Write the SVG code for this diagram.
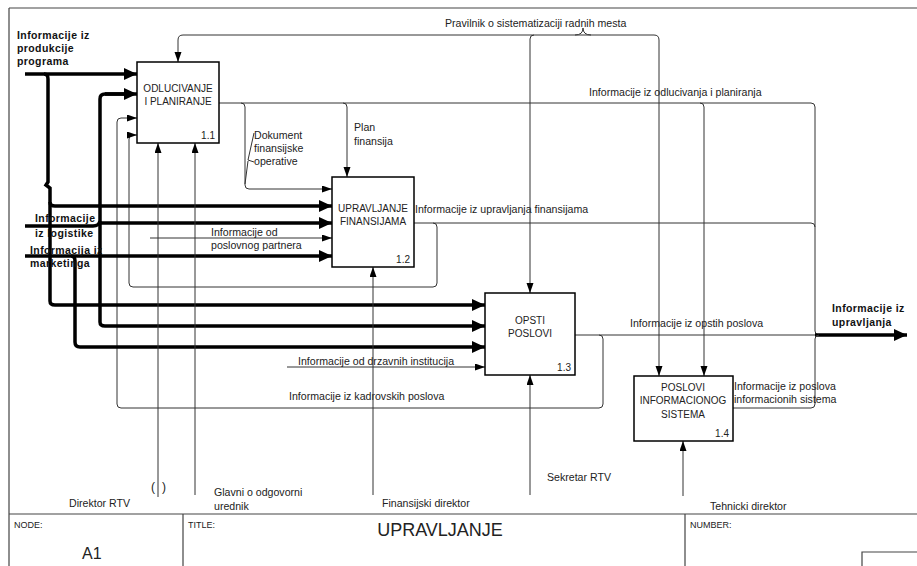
<svg xmlns="http://www.w3.org/2000/svg" width="917" height="566" viewBox="0 0 917 566">
  <style>
    text { font-family: "Liberation Sans", Arial, sans-serif; font-size: 10.6px; fill: #222; }
    .bx { font-size: 10px; }
    .b { font-weight: bold; fill: #111; font-size: 10.5px; letter-spacing: 0.4px; }
    .mid { text-anchor: middle; }
    .end { text-anchor: end; }
    .box { fill: #fff; stroke: #000; stroke-width: 1.5; }
    .thin { fill: none; stroke: #333; stroke-width: 1; }
    .thinA { fill: none; stroke: #333; stroke-width: 1; marker-end: url(#a); }
    .thick { fill: none; stroke: #000; stroke-width: 3.5; }
    .thickA { fill: none; stroke: #000; stroke-width: 3.5; marker-end: url(#A); }
    .frame { fill: none; stroke: #444; stroke-width: 1.2; }
  </style>
  <defs>
    <marker id="a" markerUnits="userSpaceOnUse" markerWidth="10" markerHeight="8" refX="10" refY="3.5" orient="auto">
      <path d="M0,0 L10,3.5 L0,7 z" fill="#000"/>
    </marker>
    <marker id="A" markerUnits="userSpaceOnUse" markerWidth="14" markerHeight="13" refX="13" refY="6" orient="auto">
      <path d="M0,0 L13,6 L0,12 z" fill="#000"/>
    </marker>
  </defs>

  <!-- sheet frame -->
  <g id="frame">
    <path class="frame" d="M9,8 H917 M9,8 V566 M9,514 H917 M183,514 V566 M685,514 V566 M862,566 V552 H917"/>
    <text x="14" y="528" style="font-size:9px">NODE:</text>
    <text x="82" y="559" style="font-size:16px">A1</text>
    <text x="188" y="528" style="font-size:9px">TITLE:</text>
    <text x="440" y="536" class="mid" style="font-size:18px">UPRAVLJANJE</text>
    <text x="690" y="528" style="font-size:9px">NUMBER:</text>
  </g>

  <!-- connectors -->
  <g id="connectors">
    <!-- Pravilnik o sistematizaciji radnih mesta -->
    <path class="thinA" d="M659,40 V376"/>
    <path class="thinA" d="M659,40 Q659,35 654,35 H183 Q178,35 178,40 V62"/>
    <path class="thinA" d="M534,35 Q530,35 530,39 V293"/>
    <path class="thin" d="M575,35 Q583,35 583,28 Q583,35 591,35"/>
    <text x="445" y="27">Pravilnik o sistematizaciji radnih mesta</text>

    <!-- Informacije iz odlucivanja i planiranja -->
    <path class="thin" d="M219,103 H811 Q815,103 815,107 V331 Q815,335 819,335"/>
    <path class="thinA" d="M700,103 Q704,103 704,107 V376"/>
    <path class="thinA" d="M241,103 Q245,103 245,107 V185 Q245,189 249,189 H332"/>
    <path class="thinA" d="M343,103 Q347,103 347,107 V177"/>
    <text x="589" y="96">Informacije iz odlucivanja i planiranja</text>
    <path class="thin" d="M254,133 L248,160 L254,162 M248,161 L245,184"/>
    <text x="254" y="139">Dokument</text>
    <text x="254" y="152">finansijske</text>
    <text x="254" y="165">operative</text>
    <text x="354" y="131">Plan</text>
    <text x="354" y="145">finansija</text>

    <!-- Informacije iz upravljanja finansijama -->
    <path class="thin" d="M414,223 H811 Q815,223 815,227"/>
    <path class="thinA" d="M433,223 Q437,223 437,227 V283 Q437,287 433,287 H133 Q129,287 129,283 V139 Q129,135 133,135 H137"/>
    <text x="415" y="213">Informacije iz upravljanja finansijama</text>

    <!-- Informacije iz opstih poslova -->
    <path class="thin" d="M575,335 H815"/>
    <path class="thickA" d="M815,335 H907"/>
    <text x="630" y="327">Informacije iz opstih  poslova</text>
    <text x="832" y="312" class="b">Informacije iz</text>
    <text x="832" y="326" class="b">upravljanja</text>

    <!-- Informacije iz kadrovskih poslova -->
    <path class="thinA" d="M599,335 Q603,335 603,339 V404 Q603,408 599,408 H121 Q117,408 117,404 V122 Q117,118 121,118 H137"/>
    <text x="289" y="400">Informacije iz kadrovskih poslova</text>

    <!-- Informacije iz poslova informacionih sistema -->
    <path class="thin" d="M733,408 H811 Q815,408 815,404 V339 Q815,335 819,335"/>
    <text x="734" y="390">Informacije iz poslova</text>
    <text x="734" y="403">informacionih sistema</text>

    <!-- Informacije iz produkcije programa -->
    <path class="thickA" d="M25,74 H137"/>
    <path class="thick" d="M44,74 Q48,74 48,79 V182 L46,185 L50,188 V301 Q50,305 55,305 H475"/>
    <path class="thick" d="M475,305 H485" marker-end="url(#A)"/>
    <path class="thickA" d="M50,202 Q50,206 55,206 H332"/>
    <text x="17" y="39" class="b">Informacije iz</text>
    <text x="17" y="52" class="b">produkcije</text>
    <text x="17" y="65" class="b">programa</text>

    <!-- Informacije iz logistike -->
    <path class="thick" d="M25,226 H93 Q99,226 100,221"/>
    <path class="thickA" d="M100,322 Q100,326 105,326 H485"/>
    <path class="thick" d="M100,322 V99 Q100,94 105,94 H126"/>
    <path class="thickA" d="M105,94 H137"/>
    <path class="thickA" d="M100,223 H332"/>
    <text x="35" y="222" class="b">Informacije</text>
    <text x="35" y="237" class="b">iz logistike</text>

    <!-- Informacija iz marketinga -->
    <path class="thickA" d="M25,256 H332"/>
    <path class="thickA" d="M71,256 Q75,256 75,261 V342 Q75,347 80,347 H485"/>
    <text x="30" y="254" class="b">Informacija iz</text>
    <text x="30" y="267" class="b">marketinga</text>

    <!-- Informacije od poslovnog partnera -->
    <path class="thinA" d="M150,238 H332"/>
    <text x="211" y="236">Informacije od</text>
    <text x="211" y="249">poslovnog partnera</text>

    <!-- Informacije od drzavnih institucija -->
    <path class="thinA" d="M287,367 H485"/>
    <text x="298" y="365">Informacije od drzavnih institucija</text>

    <!-- mechanisms -->
    <path class="thinA" d="M158,497 V143"/>
    <text x="151" y="491" style="font-size:12px">(</text>
    <text x="162" y="491" style="font-size:12px">)</text>
    <text x="69" y="507">Direktor RTV</text>
    <path class="thinA" d="M195,495 V143"/>
    <text x="214" y="496">Glavni o odgovorni</text>
    <text x="214" y="510">urednik</text>
    <path class="thinA" d="M373,495 V267"/>
    <text x="382" y="507">Finansijski direktor</text>
    <path class="thinA" d="M530,495 V375"/>
    <text x="547" y="481">Sekretar RTV</text>
    <path class="thinA" d="M683,496 V441"/>
    <text x="710" y="510">Tehnicki direktor</text>
  </g>

  <!-- activity boxes -->
  <g id="A11">
    <rect class="box" x="137" y="62" width="82" height="81"/>
    <text x="178" y="92" class="mid bx">ODLUCIVANJE</text>
    <text x="178" y="105" class="mid bx">I PLANIRANJE</text>
    <text x="215" y="139" class="end bx">1.1</text>
  </g>
  <g id="A12">
    <rect class="box" x="332" y="177" width="82" height="90"/>
    <text x="373" y="212" class="mid bx">UPRAVLJANJE</text>
    <text x="373" y="225" class="mid bx">FINANSIJAMA</text>
    <text x="410" y="263" class="end bx">1.2</text>
  </g>
  <g id="A13">
    <rect class="box" x="485" y="293" width="90" height="82"/>
    <text x="530" y="324" class="mid bx">OPSTI</text>
    <text x="530" y="337" class="mid bx">POSLOVI</text>
    <text x="571" y="371" class="end bx">1.3</text>
  </g>
  <g id="A14">
    <rect class="box" x="634" y="376" width="99" height="65"/>
    <text x="683" y="391" class="mid bx">POSLOVI</text>
    <text x="683" y="404" class="mid bx">INFORMACIONOG</text>
    <text x="683" y="418" class="mid bx">SISTEMA</text>
    <text x="729" y="437" class="end bx">1.4</text>
  </g>
</svg>
